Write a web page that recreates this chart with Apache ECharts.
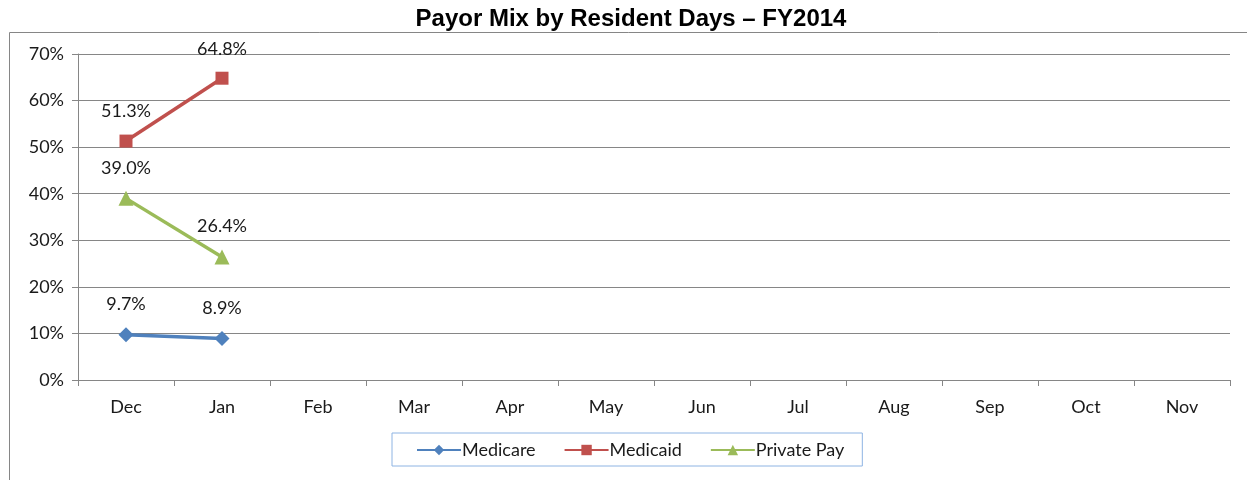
<!DOCTYPE html>
<html>
<head>
<meta charset="utf-8">
<script src="https://cdn.jsdelivr.net/npm/echarts@6/dist/echarts.min.js"></script>
<style>
  html, body { margin: 0; padding: 0; background: #fff; }
  #chart { width: 1247px; height: 480px; }
</style>
</head>
<body>
<div id="chart"></div>
<script>
var months = ['Dec', 'Jan', 'Feb', 'Mar', 'Apr', 'May', 'Jun', 'Jul', 'Aug', 'Sep', 'Oct', 'Nov']
var medicare = [9.7, 8.9]
var medicaid = [51.3, 64.8]
var privatePay = [39.0, 26.4]

var chart = echarts.init(document.getElementById('chart'))

function lineSeries (name, data, color, symbol, size) {
  return {
    name: name,
    type: 'line',
    data: data,
    symbol: symbol,
    symbolSize: size,
    lineStyle: { color: color, width: 3.5 },
    itemStyle: { color: color },
    label: {
      show: true,
      position: 'top',
      distance: 14,
      color: '#1a1a1a',
      fontFamily: 'Lato',
      fontSize: 18,
      formatter: function (p) { return p.value.toFixed(1) + '%' }
    }
  }
}

var option = {
  animation: false,
  title: {
    text: 'Payor Mix by Resident Days – FY2014',
    left: 626,
    textAlign: 'center',
    top: 2,
    textStyle: { fontFamily: 'Liberation Sans', fontWeight: 'bold', fontSize: 24, color: '#000' }
  },
  graphic: [{
    type: 'rect',
    shape: { x: 9.5, y: 32.5, width: 1250, height: 460 },
    style: { fill: 'none', stroke: '#868686', lineWidth: 1 },
    silent: true
  }],
  grid: { left: 78, right: 17, top: 54, bottom: 100 },
  legend: {
    left: 392,
    top: 433,
    padding: [8, 18, 7, 24],
    borderColor: '#8eb4e3',
    borderWidth: 1,
    itemWidth: 44,
    itemHeight: 13,
    itemGap: 28,
    textStyle: { fontFamily: 'Lato', fontSize: 18, color: '#1a1a1a', padding: [0, 0, 0, -4] },
    data: ['Medicare', 'Medicaid', 'Private Pay']
  },
  xAxis: {
    type: 'category',
    data: months,
    boundaryGap: true,
    axisLine: { lineStyle: { color: '#868686', width: 1 } },
    axisTick: { show: true, length: 6, lineStyle: { color: '#868686' } },
    axisLabel: { fontFamily: 'Lato', fontSize: 18, color: '#1a1a1a', margin: 18 }
  },
  yAxis: {
    type: 'value',
    min: 0,
    max: 70,
    interval: 10,
    axisLine: { show: true, lineStyle: { color: '#868686', width: 1 } },
    axisTick: { show: true, length: 6, lineStyle: { color: '#868686' } },
    splitLine: { lineStyle: { color: '#868686', width: 1 } },
    axisLabel: { fontFamily: 'Lato', fontSize: 18, color: '#1a1a1a', margin: 14, formatter: '{value}%' }
  },
  series: [
    lineSeries('Medicare', medicare, '#4f81bd', 'diamond', 15),
    lineSeries('Medicaid', medicaid, '#c0504d', 'rect', 13),
    lineSeries('Private Pay', privatePay, '#9bbb59', 'triangle', 15)
  ]
}

chart.setOption(option)
</script>
</body>
</html>
